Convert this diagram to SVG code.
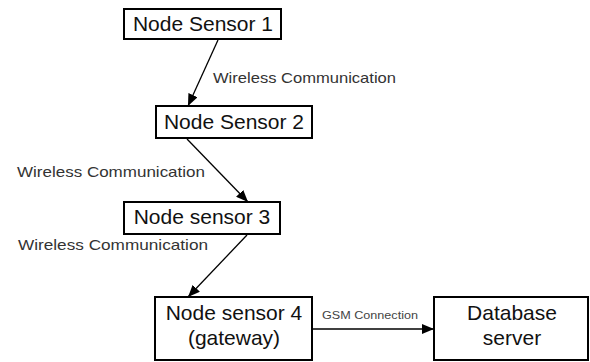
<svg xmlns="http://www.w3.org/2000/svg" width="590" height="362" viewBox="0 0 590 362">
  <style>
    .box { fill: #ffffff; stroke: #000000; stroke-width: 2; }
    .name { font-family: "Liberation Sans", Arial, sans-serif; font-size: 21px; fill: #111111; text-anchor: middle; }
    .link { stroke: #000000; stroke-width: 1.3; fill: none; marker-end: url(#head); }
    .tag { font-family: "Liberation Sans", Arial, sans-serif; font-size: 15px; fill: #333333; }
    .tag-small { font-family: "Liberation Sans", Arial, sans-serif; font-size: 11px; fill: #444444; }
  </style>
  <defs>
    <marker id="head" viewBox="0 0 12 10" refX="12" refY="5" markerWidth="12" markerHeight="10" markerUnits="userSpaceOnUse" orient="auto">
      <path d="M0,0 L12,5 L0,10 Z" fill="#000000"/>
    </marker>
  </defs>
  <rect width="590" height="362" fill="#ffffff"/>

  <g id="connectors">
    <line class="link" x1="218" y1="40" x2="188" y2="106"/>
    <line class="link" x1="187" y1="139" x2="248" y2="202"/>
    <line class="link" x1="247" y1="235" x2="188" y2="297"/>
    <line class="link" x1="313" y1="329" x2="434" y2="329"/>
    <text class="tag" x="213" y="83" textLength="183" lengthAdjust="spacingAndGlyphs">Wireless Communication</text>
    <text class="tag" x="17" y="177" textLength="188" lengthAdjust="spacingAndGlyphs">Wireless Communication</text>
    <text class="tag" x="18" y="250" textLength="190" lengthAdjust="spacingAndGlyphs">Wireless Communication</text>
    <text class="tag-small" x="322" y="319" textLength="96" lengthAdjust="spacingAndGlyphs">GSM Connection</text>
  </g>

  <g id="node-sensor-1">
    <rect class="box" x="124" y="9" width="157" height="30"/>
    <text class="name" x="203" y="31">Node Sensor 1</text>
  </g>

  <g id="node-sensor-2">
    <rect class="box" x="156" y="106" width="156" height="32"/>
    <text class="name" x="234" y="129">Node Sensor 2</text>
  </g>

  <g id="node-sensor-3">
    <rect class="box" x="124" y="202" width="156" height="32"/>
    <text class="name" x="202" y="224">Node sensor 3</text>
  </g>

  <g id="node-sensor-4">
    <rect class="box" x="155" y="297" width="157" height="63"/>
    <text class="name" x="234" y="320">Node sensor 4</text>
    <text class="name" x="234" y="345">(gateway)</text>
  </g>

  <g id="database-server">
    <rect class="box" x="434" y="297" width="154" height="63"/>
    <text class="name" x="512" y="320">Database</text>
    <text class="name" x="512" y="345">server</text>
  </g>
</svg>
